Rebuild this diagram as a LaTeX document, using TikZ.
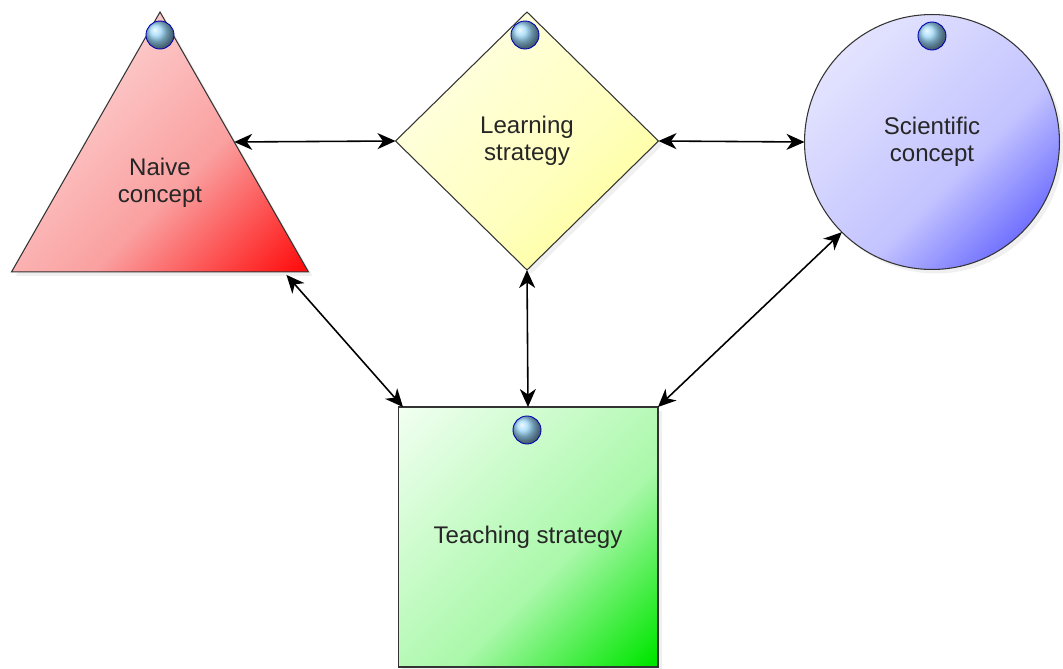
\documentclass[tikz,border=0pt]{standalone}
\usepackage{fontspec}
\setmainfont{Liberation Sans}
\usepackage{tikz}
\usetikzlibrary{shapes.geometric, arrows.meta, shadows}
\definecolor{naivelt}{RGB}{255, 232, 232}
\definecolor{naivemd}{RGB}{250, 160, 160}
\definecolor{naivedk}{RGB}{255, 15, 15}
\definecolor{learnlt}{RGB}{255, 255, 238}
\definecolor{learnmd}{RGB}{255, 255, 190}
\definecolor{learndk}{RGB}{255, 255, 140}
\definecolor{scilt}{RGB}{238, 238, 255}
\definecolor{scimd}{RGB}{195, 195, 255}
\definecolor{scidk}{RGB}{70, 70, 255}
\definecolor{teachlt}{RGB}{242, 255, 242}
\definecolor{teachmd}{RGB}{170, 248, 170}
\definecolor{teachdk}{RGB}{0, 230, 0}
\definecolor{knob}{RGB}{120, 200, 245}

% light in the upper left corner, strong only in the lower right one
\newcommand\cornershade[4]{\pgfdeclareverticalshading{#1}{100bp}{%
  color(0bp)=(#4); color(16bp)=(#4); color(42bp)=(#3); color(86bp)=(#2); color(100bp)=(#2)}}
\cornershade{naiveshade}{naivelt}{naivemd}{naivedk}
\cornershade{learnshade}{learnlt}{learnmd}{learndk}
\cornershade{scishade}{scilt}{scimd}{scidk}
\cornershade{teachshade}{teachlt}{teachmd}{teachdk}

\begin{document}
\begin{tikzpicture}[x=0.02cm, y=-0.02cm, thick,
  part/.style={draw=black!80, line width=0.6pt, outer sep=0pt, inner sep=0pt,
    align=center, text=black!85, font=\fontsize{13.7}{15.5}\selectfont,
    drop shadow={opacity=0.12, shadow xshift=0.08cm, shadow yshift=-0.08cm}},
  caption/.style={align=center, text=black!85, font=\fontsize{13.7}{15.5}\selectfont},
  link/.style={<->, >={Stealth[length=0.36cm, width=0.32cm, inset=0.11cm]}, line width=0.9pt}
]
  \useasboundingbox (0, 0) rectangle (1063, 669);

  \node[part, isosceles triangle, isosceles triangle stretches, shape border rotate=90,
    minimum width=5.94cm, minimum height=5.2cm, anchor=apex,
    shading=naiveshade, shading angle=45]
    (naive) at (160, 12) {};
  \node[caption] (naivetext) at (160, 183) {Naive\\concept};
  \node[part, diamond, minimum width=5.26cm, minimum height=5.16cm,
    shading=learnshade, shading angle=45]
    (learn) at (527, 141) {Learning\\strategy};
  \node[part, circle, minimum size=5.1cm,
    shading=scishade, shading angle=45]
    (sci) at (932, 142) {Scientific\\concept};
  \node[part, rectangle, minimum width=5.2cm, minimum height=5.2cm,
    shading=teachshade, shading angle=45]
    (teach) at (528, 537) {Teaching strategy};

  % knobs on top of the shapes
  \foreach \bx/\by in {160/35, 525/35, 932/36, 527/430} {
    \shade[ball color=knob!75!white] (\bx, \by) circle (0.28cm);
    \draw[blue!70!black, line width=0.5pt] (\bx, \by) circle (0.28cm);
  }

  \draw[link] (naive.right side) -- (learn.west);
  \draw[link] (learn.east) -- (sci.west);
  \draw[link] (learn.south) -- (teach.north);
  \draw[link] ([xshift=-0.44cm, yshift=-0.06cm]naive.right corner) -- ([xshift=0.1cm]teach.north west);
  \draw[link] (sci.225) -- (teach.north east);
\end{tikzpicture}
\end{document}
